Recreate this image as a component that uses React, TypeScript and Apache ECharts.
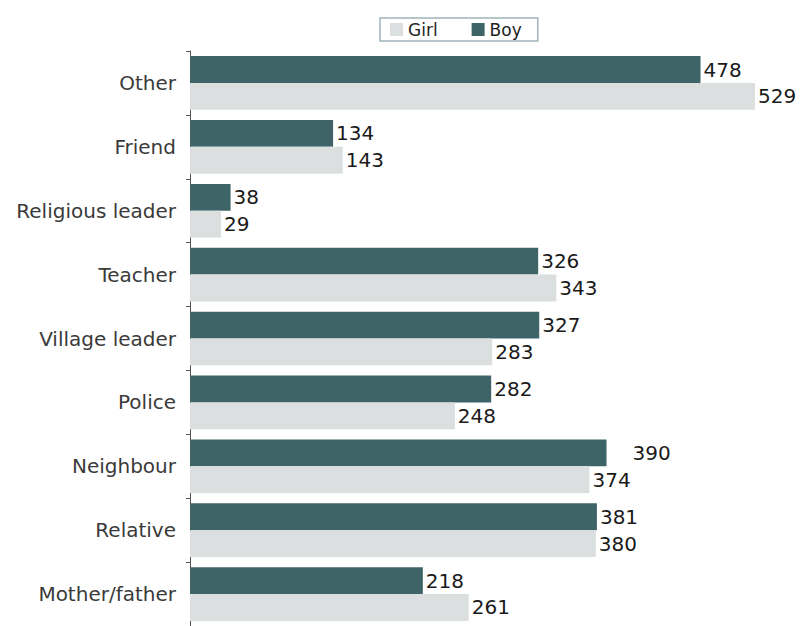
import React, { useEffect, useRef } from "react";
import * as echarts from "echarts";

const categories = ["Mother/father", "Relative", "Neighbour", "Police", "Village leader", "Teacher", "Religious leader", "Friend", "Other"];
const girlValues = [261, 380, 374, 248, 283, 343, 29, 143, 529];
const boyValues = [218, 381, 390, 282, 327, 326, 38, 134, 478];
const legendNames = ["Girl", "Boy"];

export default function App() {
  const ref = useRef<HTMLDivElement>(null);
  useEffect(() => {
    if (!ref.current) return;
    const chart = echarts.init(ref.current, null, { renderer: "svg" });
    const labelStyle = {
      show: true,
      position: "right",
      distance: 3,
      color: "#1a1a1a",
      fontSize: 20,
      fontFamily: "DejaVu Sans",
    };
    chart.setOption({
      animation: false,
      backgroundColor: "#ffffff",
      legend: {
        data: legendNames,
        icon: "rect",
        left: 380,
        top: 18,
        itemWidth: 13,
        itemHeight: 13,
        itemGap: 34,
        padding: [3, 16, 3, 10],
        borderColor: "#9fb4ba",
        borderWidth: 1.5,
        textStyle: { fontSize: 17, color: "#222", fontFamily: "DejaVu Sans" },
      },
      grid: { left: 190, top: 51, width: 587.4, height: 576 },
      xAxis: {
        type: "value",
        min: 0,
        max: 550,
        show: false,
      },
      yAxis: {
        type: "category",
        data: categories,
        axisLine: { show: true, lineStyle: { color: "#555", width: 1 } },
        axisTick: { show: true, length: 4, inside: false, lineStyle: { color: "#555" } },
        axisLabel: { fontSize: 20, color: "#3a3a3a", margin: 14, fontFamily: "DejaVu Sans" },
        splitLine: { show: false },
      },
      series: [
        {
          name: "Boy",
          type: "bar",
          data: boyValues.map((v, i) =>
            categories[i] === "Neighbour" ? { value: v, label: { distance: 26 } } : v
          ),
          barGap: "0%",
          barCategoryGap: "16%",
          itemStyle: { color: "#3e6468" },
          label: labelStyle,
        },
        {
          name: "Girl",
          type: "bar",
          data: girlValues,
          barGap: "0%",
          barCategoryGap: "16%",
          itemStyle: { color: "#dcdfe0" },
          label: labelStyle,
        },
      ],
    });
    return () => chart.dispose();
  }, []);
  return (
    <div
      ref={ref}
      style={{ position: "fixed", left: 0, top: 0, width: 804, height: 626 }}
    />
  );
}
